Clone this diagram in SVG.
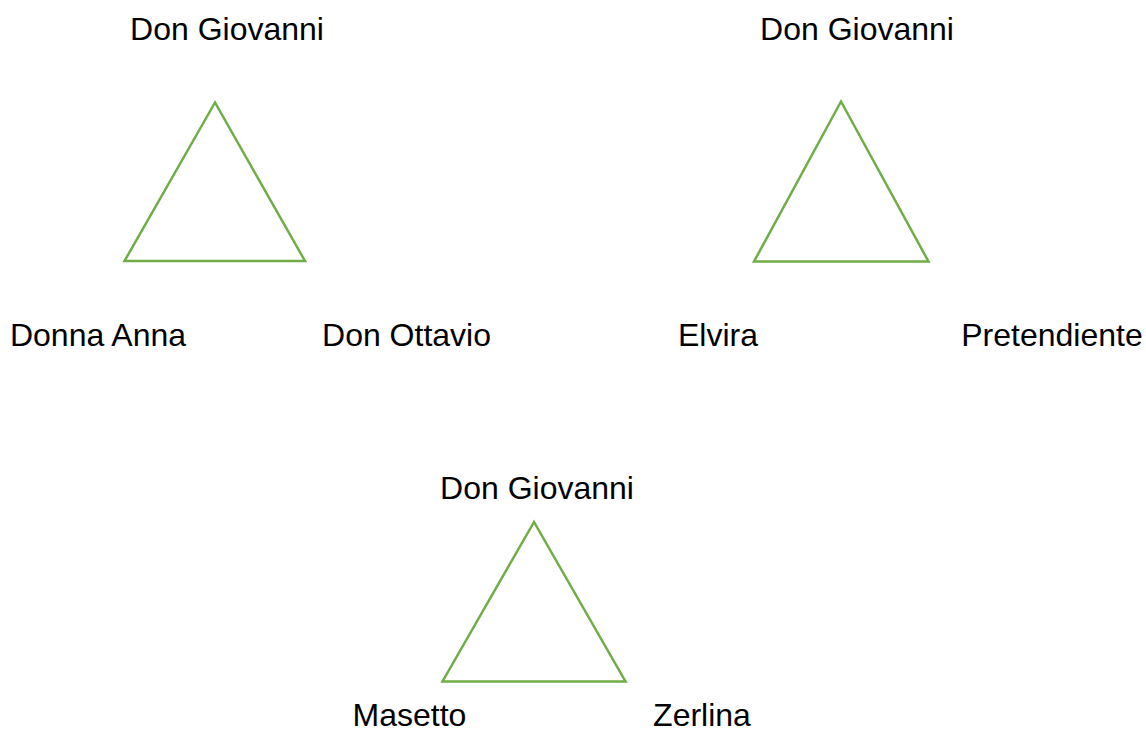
<svg xmlns="http://www.w3.org/2000/svg" width="1146" height="731" viewBox="0 0 1146 731">
<style>
.tri{fill:none;stroke:#70AD47;stroke-width:2.5;stroke-linejoin:miter}
.lbl{font-family:"Liberation Sans",Arial,sans-serif;font-size:32px;fill:#000;text-anchor:middle}
</style>
<rect width="1146" height="731" fill="#fff"/>
<g id="triangle-1">
<polygon class="tri" points="215,102.5 124.5,261 305,261"/>
<text class="lbl" x="227" y="40">Don Giovanni</text>
<text class="lbl" x="98" y="346">Donna Anna</text>
<text class="lbl" x="406.5" y="346">Don Ottavio</text>
</g>
<g id="triangle-2">
<polygon class="tri" points="841,101.5 754,261.5 928.5,261.5"/>
<text class="lbl" x="857" y="40">Don Giovanni</text>
<text class="lbl" x="718" y="346">Elvira</text>
<text class="lbl" x="1052" y="346">Pretendiente</text>
</g>
<g id="triangle-3">
<polygon class="tri" points="534,522 442.5,681.5 625.5,681.5"/>
<text class="lbl" x="537" y="499">Don Giovanni</text>
<text class="lbl" x="409.5" y="726">Masetto</text>
<text class="lbl" x="702" y="726">Zerlina</text>
</g>
<g id="connectors"></g>
</svg>
